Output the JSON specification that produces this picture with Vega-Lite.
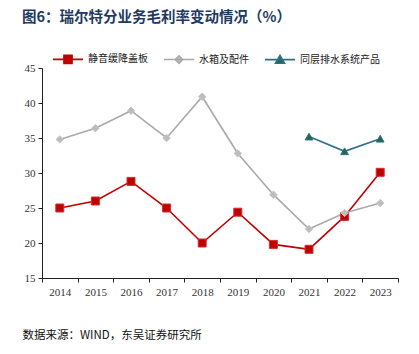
{
  "$schema": "https://vega.github.io/schema/vega-lite/v6.json",
  "width": 356,
  "height": 210,
  "autosize": {"type": "none"},
  "padding": {"left": 42, "top": 68, "right": 21, "bottom": 76},
  "background": "white",
  "title": {
    "text": "图6：瑞尔特分业务毛利率变动情况（%）",
    "anchor": "start",
    "frame": "group",
    "dx": -20,
    "offset": 18,
    "font": "Noto Sans CJK SC",
    "fontSize": 14.5,
    "fontWeight": "bold",
    "color": "#1F3A5F"
  },
  "data": {
    "values": [
      {"year": "2014", "series": "静音缓降盖板", "value": 25.0},
      {"year": "2015", "series": "静音缓降盖板", "value": 26.0},
      {"year": "2016", "series": "静音缓降盖板", "value": 28.8},
      {"year": "2017", "series": "静音缓降盖板", "value": 25.0},
      {"year": "2018", "series": "静音缓降盖板", "value": 20.0},
      {"year": "2019", "series": "静音缓降盖板", "value": 24.4},
      {"year": "2020", "series": "静音缓降盖板", "value": 19.8},
      {"year": "2021", "series": "静音缓降盖板", "value": 19.1},
      {"year": "2022", "series": "静音缓降盖板", "value": 23.8},
      {"year": "2023", "series": "静音缓降盖板", "value": 30.1},
      {"year": "2014", "series": "水箱及配件", "value": 34.8},
      {"year": "2015", "series": "水箱及配件", "value": 36.4},
      {"year": "2016", "series": "水箱及配件", "value": 38.9},
      {"year": "2017", "series": "水箱及配件", "value": 35.0},
      {"year": "2018", "series": "水箱及配件", "value": 40.9},
      {"year": "2019", "series": "水箱及配件", "value": 32.8},
      {"year": "2020", "series": "水箱及配件", "value": 26.9},
      {"year": "2021", "series": "水箱及配件", "value": 22.0},
      {"year": "2022", "series": "水箱及配件", "value": 24.3},
      {"year": "2023", "series": "水箱及配件", "value": 25.7},
      {"year": "2021", "series": "同层排水系统产品", "value": 35.2},
      {"year": "2022", "series": "同层排水系统产品", "value": 33.1},
      {"year": "2023", "series": "同层排水系统产品", "value": 34.9}
    ]
  },
  "encoding": {
    "x": {
      "field": "year",
      "type": "ordinal",
      "scale": {"paddingInner": 0, "paddingOuter": 0},
      "axis": {
        "title": "数据来源：WIND，东吴证券研究所",
        "titleFont": "Noto Sans CJK SC",
        "titleFontSize": 11.5,
        "titleFontWeight": "normal",
        "titleColor": "#111",
        "titleAnchor": "start",
        "titleAlign": "left",
        "titleX": -20,
        "titleY": 51,
        "labelAngle": 0,
        "labelFont": "Liberation Serif",
        "labelFontSize": 11,
        "labelColor": "#333",
        "labelPadding": 4,
        "tickBand": "extent",
        "tickSize": 4,
        "tickColor": "#222",
        "domainColor": "#222",
        "domainWidth": 1,
        "grid": false
      }
    },
    "y": {
      "field": "value",
      "type": "quantitative",
      "scale": {"domain": [15, 45], "nice": false, "zero": false},
      "axis": {
        "title": null,
        "values": [15, 20, 25, 30, 35, 40, 45],
        "labelFont": "Liberation Serif",
        "labelFontSize": 11,
        "labelColor": "#333",
        "labelPadding": 3,
        "tickSize": 4,
        "tickColor": "#222",
        "domainColor": "#222",
        "grid": false
      }
    }
  },
  "layer": [
    {
      "mark": {"type": "line", "strokeWidth": 1.6},
      "encoding": {
        "color": {
          "field": "series",
          "type": "nominal",
          "sort": ["静音缓降盖板", "水箱及配件", "同层排水系统产品"],
          "scale": {
            "domain": ["静音缓降盖板", "水箱及配件", "同层排水系统产品"],
            "range": ["#C00000", "#A9A9A9", "#2E6E8E"]
          },
          "legend": {
            "title": null,
            "orient": "none",
            "legendX": 10,
            "legendY": -25,
            "direction": "horizontal",
            "symbolSize": 900,
            "symbolStrokeWidth": 1.6,
            "labelFont": "Noto Sans CJK SC",
            "labelFontSize": 10,
            "labelColor": "#222",
            "labelOffset": 4,
            "columnPadding": 12,
            "encode": {
              "symbols": {
                "update": {
                  "shape": {"signal": "datum.value === '静音缓降盖板' ? 'M-1,0L1,0M-0.27,-0.27L0.27,-0.27L0.27,0.27L-0.27,0.27Z' : datum.value === '水箱及配件' ? 'M-1,0L1,0M0,-0.25L0.25,0L0,0.25L-0.25,0Z' : 'M-1,0L1,0M0,-0.28L0.3,0.24L-0.3,0.24Z'"},
                  "fill": {"signal": "datum.value === '静音缓降盖板' ? '#C00000' : datum.value === '水箱及配件' ? '#BDBDBD' : '#1E6B45'"},
                  "stroke": {"signal": "datum.value === '静音缓降盖板' ? '#C00000' : datum.value === '水箱及配件' ? '#A9A9A9' : '#2E6E8E'"},
                  "strokeWidth": {"value": 1.6},
                  "strokeOpacity": {"value": 1},
                  "fillOpacity": {"value": 1},
                  "size": {"value": 900},
                  "opacity": {"value": 1}
                }
              }
            }
          }
        }
      }
    },
    {
      "transform": [{"filter": "datum.series === '静音缓降盖板'"}],
      "mark": {"type": "point", "shape": "square", "filled": true, "opacity": 1, "size": 64, "fill": "#C00000", "stroke": "#D03030", "strokeWidth": 1}
    },
    {
      "transform": [{"filter": "datum.series === '水箱及配件'"}],
      "mark": {"type": "point", "shape": "diamond", "filled": true, "opacity": 1, "size": 55, "fill": "#BDBDBD", "stroke": "#C4C4C4", "strokeWidth": 1}
    },
    {
      "transform": [{"filter": "datum.series === '同层排水系统产品'"}],
      "mark": {"type": "point", "shape": "triangle-up", "filled": true, "opacity": 1, "size": 60, "fill": "#1E6B45", "stroke": "#2E6E8E", "strokeWidth": 1}
    }
  ],
  "config": {
    "view": {"stroke": null},
    "legend": {"symbolSize": 900}
  }
}
